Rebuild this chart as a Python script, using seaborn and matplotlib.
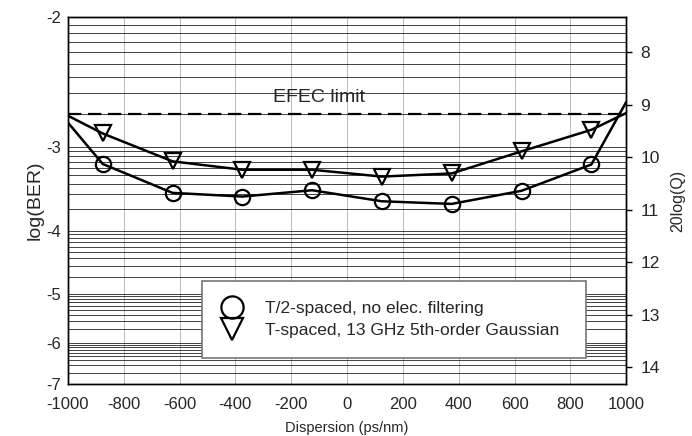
import math
import matplotlib
matplotlib.use("Agg")
import matplotlib.pyplot as plt
from matplotlib.lines import Line2D
import seaborn as sns

# Dispersion points (ps/nm) and Q-factor in dB (20log(Q))
dispersion = [-1000, -875, -625, -375, -125, 125, 375, 625, 875, 1000]
q_t2_spaced = [9.34, 10.13, 10.68, 10.75, 10.63, 10.84, 10.89, 10.64, 10.14, 8.95]
q_t_spaced = [9.21, 9.55, 10.08, 10.24, 10.24, 10.37, 10.31, 9.89, 9.48, 9.16]

labels = ["T/2-spaced, no elec. filtering", "T-spaced, 13 GHz 5th-order Gaussian"]
efec_log_ber = -2.7
log_ber_ticks = [-2, -3, -4, -5, -6, -7]
q_db_ticks = [8, 9, 10, 11, 12, 13, 14]
x_ticks = list(range(-1000, 1001, 200))


def q_db(ber):
    # invert BER = 0.5*erfc(Q/sqrt(2)) by bisection, return 20log10(Q)
    lo, hi = 0.1, 12.0
    for _ in range(80):
        mid = 0.5 * (lo + hi)
        if 0.5 * math.erfc(mid / math.sqrt(2)) > ber:
            lo = mid
        else:
            hi = mid
    return 20 * math.log10(0.5 * (lo + hi))


sns.set_theme(style="white")
plt.rcParams['font.family'] = ['Liberation Sans', 'DejaVu Sans']

fig = plt.figure(figsize=(6.92, 4.36), dpi=100)
ax = fig.add_axes([0.098, 0.119, 0.807, 0.842])

# log-BER grid (linear in Q dB)
for n in range(3, 8):
    for k in range(1, 10):
        ax.axhline(q_db(k * 10.0 ** -n), color="#222222", lw=0.6, zorder=1)
ax.axhline(q_db(1e-2), color="#222222", lw=0.6, zorder=1)
for xv in x_ticks:
    ax.axvline(xv, color="#b0b0b0", lw=0.6, zorder=0.5)

# EFEC limit
efec_db = q_db(10 ** efec_log_ber)
ax.axhline(efec_db, color="black", lw=1.6, ls=(0, (6, 3)), zorder=2)
ax.text(-100, efec_db - 0.31, "EFEC limit", ha="center", va="center", fontsize=14)

mk = dict(markevery=list(range(1, 9)), markerfacecolor="none", markeredgecolor="black",
          markersize=11, markeredgewidth=1.6)
sns.lineplot(x=dispersion, y=q_t2_spaced, ax=ax, color="black", lw=1.8, marker="o", zorder=3, **mk)
sns.lineplot(x=dispersion, y=q_t_spaced, ax=ax, color="black", lw=1.8, marker="v", zorder=3, **mk)

ax.set_xlim(-1000, 1000)
ax.set_ylim(q_db(1e-7), q_db(1e-2))
ax.set_xticks(x_ticks)
ax.set_xticklabels([str(v) for v in x_ticks], fontsize=12)
ax.set_yticks([q_db(10.0 ** v) for v in log_ber_ticks])
ax.set_yticklabels([str(v) for v in log_ber_ticks], fontsize=12)
ax.tick_params(axis="y", length=0, pad=5)
ax.tick_params(axis="x", length=0, pad=9)
ax.set_xlabel("Dispersion (ps/nm)", fontsize=10.5, labelpad=7)
ax.set_ylabel("log(BER)", fontsize=14, labelpad=2)
for s in ax.spines.values():
    s.set_color("black")
    s.set_linewidth(1.0)

ax2 = ax.twinx()
ax2.set_ylim(ax.get_ylim())
ax2.set_yticks(q_db_ticks)
ax2.set_yticklabels([str(v) for v in q_db_ticks], fontsize=12.5)
ax2.tick_params(axis="y", right=True, length=4, width=1, color="black", direction="out", pad=6)
ax2.set_ylabel("20log(Q)", fontsize=11.5, labelpad=8)
for s in ax2.spines.values():
    s.set_color("black")
    s.set_linewidth(1.0)

handles = [
    Line2D([], [], ls="none", marker="o", ms=16, mfc="none", mec="black", mew=1.6),
    Line2D([], [], ls="none", marker="v", ms=16, mfc="none", mec="black", mew=1.6),
]
leg = ax2.legend(handles, labels, loc="lower left", bbox_to_anchor=(0.24, 0.071, 0.688, 0.219),
                 mode="expand", fontsize=12.5, frameon=True, fancybox=False, framealpha=1,
                 edgecolor="#777777", handlelength=1.2, handletextpad=1.3, labelspacing=0.4,
                 borderpad=1.15, borderaxespad=0)
leg.get_frame().set_linewidth(1.2)
leg.set_zorder(10)

fig.savefig("out.png", dpi=100)
